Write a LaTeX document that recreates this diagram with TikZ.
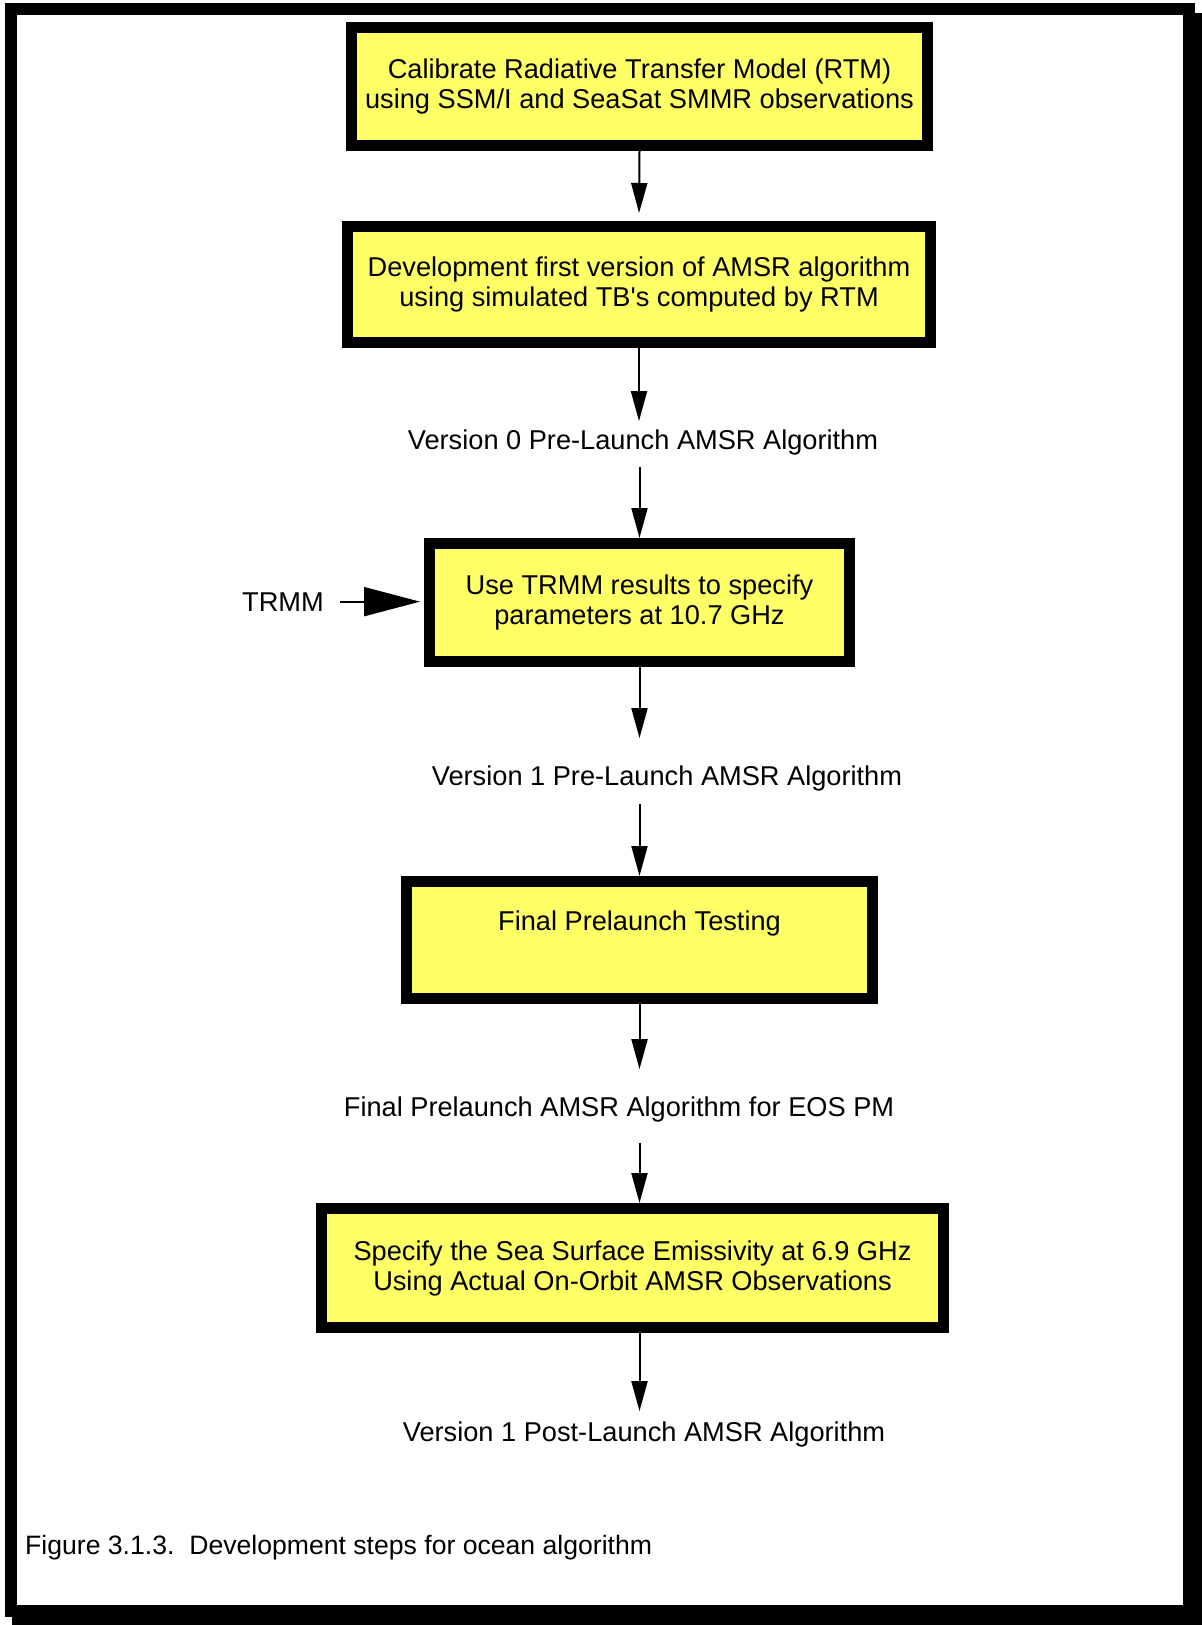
\documentclass[tikz,border=0pt]{standalone}
\usepackage{fontspec}
\setmainfont{Liberation Sans}
\usetikzlibrary{arrows.meta}
\definecolor{boxyellow}{RGB}{255,255,102}

\begin{document}
\begin{tikzpicture}[x=1pt,y=-1pt,>={Triangle[length=30pt,width=16pt]},
  every node/.style={font=\fontsize{27.2}{30}\selectfont,inner sep=0pt},
  stepbox/.style={draw,line width=11pt,fill=boxyellow,align=center},
  flow/.style={line width=2pt,->}]
  \useasboundingbox (0,0) rectangle (1202,1625);
  \fill (12,13) rectangle (1202,1625);
  \draw[line width=12pt,fill=white] (11,9) rectangle (1189,1611);

  \node[stepbox,minimum width=576pt,minimum height=118pt] (b1) at (639.5,86.5)
    {Calibrate Radiative Transfer Model (RTM)\\using SSM/I and SeaSat SMMR observations};
  \node[stepbox,minimum width=583pt,minimum height=116pt] (b2) at (639,284.5)
    {Development first version of AMSR algorithm\\using simulated TB\textquotesingle s computed by RTM};
  \node[anchor=base] (v0) at (643,449) {Version 0 Pre-Launch AMSR Algorithm};
  \node[stepbox,minimum width=420pt,minimum height=118pt] (b3) at (639.5,602.5)
    {Use TRMM results to specify\\parameters at 10.7 GHz};
  \node[anchor=base west] (trmm) at (242,611) {TRMM};
  \node[anchor=base] (v1) at (667,785) {Version 1 Pre-Launch AMSR Algorithm};
  \node[stepbox,minimum width=466pt,minimum height=117pt] (b4) at (639.5,940)
    {Final Prelaunch Testing\\\strut};
  \node[anchor=base] (fin) at (619,1116) {Final Prelaunch AMSR Algorithm for EOS PM};
  \node[stepbox,minimum width=622pt,minimum height=119pt] (b5) at (632.5,1268)
    {Specify the Sea Surface Emissivity at 6.9 GHz\\Using Actual On-Orbit AMSR Observations};
  \node[anchor=base] (post) at (644,1441) {Version 1 Post-Launch AMSR Algorithm};
  \node[anchor=base west,font=\fontsize{26.6}{30}\selectfont] (cap) at (25,1554)
    {Figure 3.1.3.\ \ Development steps for ocean algorithm};

  \draw[flow,shorten >=8pt] (b1.south) -- (b2.north);
  \draw[flow,shorten >=8pt] (b2.south) -- (b2.south |- v0.north);
  \draw[flow,shorten <=12pt] (v0.south -| b3.north) -- (b3.north);
  \draw[flow,shorten >=27pt] (b3.south) -- (b3.south |- v1.north);
  \draw[flow,shorten <=13pt] (v1.south -| b4.north) -- (b4.north);
  \draw[flow,shorten >=27pt] (b4.south) -- (b4.south |- fin.north);
  \draw[flow,shorten <=21pt] (fin.south -| b4.south) -- (b4.south |- b5.north);
  \draw[flow,shorten >=10pt] (b4.south |- b5.south) -- (b4.south |- post.north);
  \draw[line width=2pt,-{Triangle[length=56pt,width=29pt]},shorten <=16pt,shorten >=4pt]
    (trmm.east) -- (trmm.east -| b3.west);
\end{tikzpicture}
\end{document}
